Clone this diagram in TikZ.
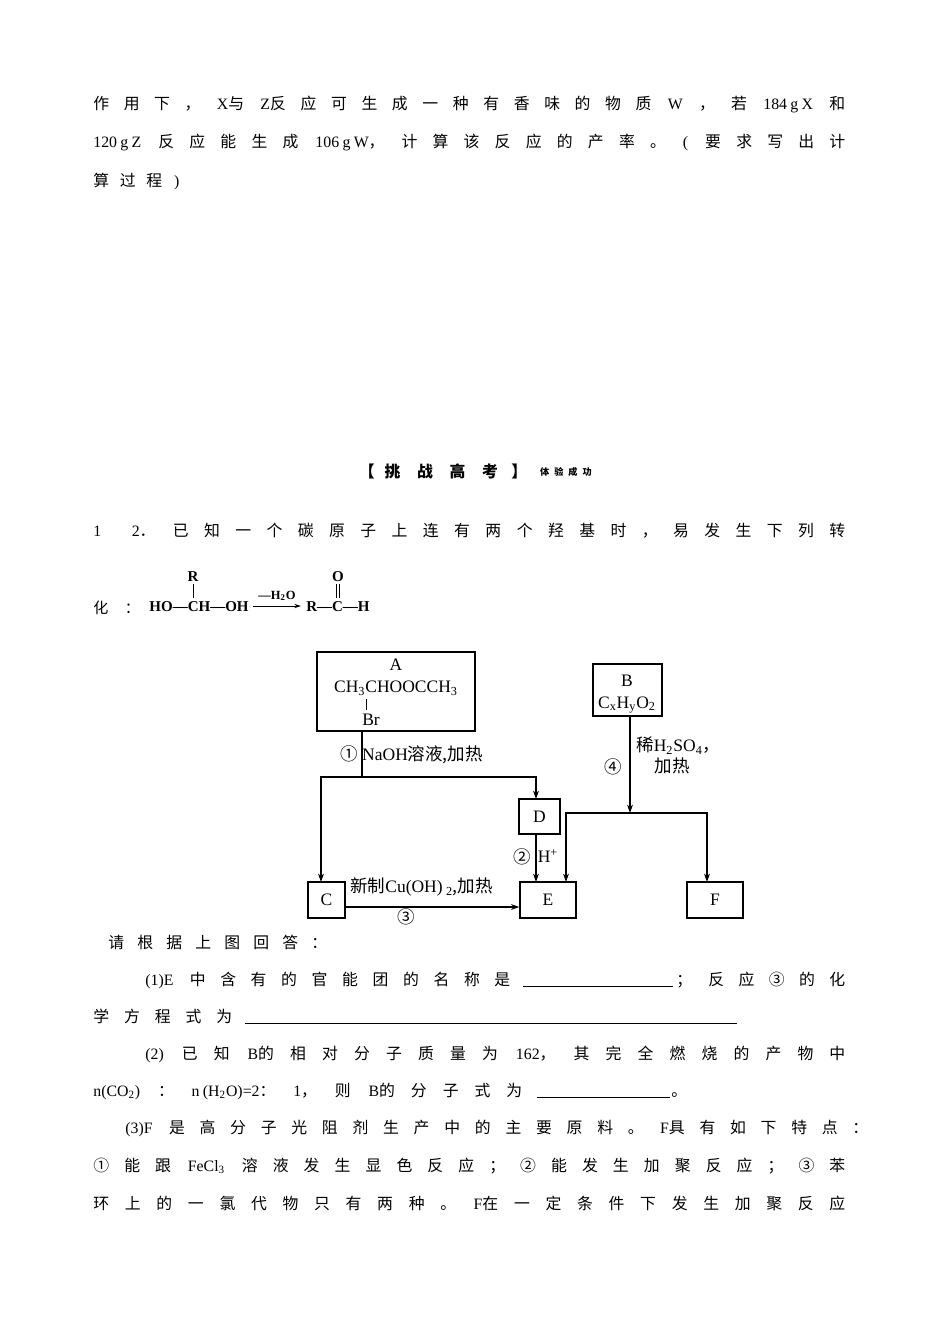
\documentclass[tikz,border=0pt]{standalone}
\usepackage{fontspec}
\usetikzlibrary{arrows.meta}
\setmainfont{Liberation Serif}
\newfontfamily\cjk{Noto Sans CJK SC}
\newcommand\seg[4]{\node[anchor=base west,inner sep=0pt] at (#1,#3) {\makebox[\dimexpr #2pt*6/10\relax][s]{#4}};}
\newcommand\txt[3]{\node[anchor=base west,inner sep=0pt] at (#1,#2) {#3};}
\newcommand\sub[1]{\textsubscript{#1}}
\begin{document}
\begin{tikzpicture}[x=0.6pt,y=-0.6pt,font=\fontsize{9.5pt}{11pt}\selectfont,
  box/.style={draw,line width=0.8pt,inner sep=0pt},
  ln/.style={line width=0.8pt},
  arr/.style={line width=0.8pt,-{Stealth[length=5pt,width=3.5pt]}},
  lab/.style={inner sep=0pt,font=\fontsize{10.5pt}{12pt}\selectfont}]
\useasboundingbox (0,0) rectangle (950,1344);
% top text
\seg{93}{752}{109}{{\cjk 作 用 下 ，} X{\cjk 与} Z{\cjk 反 应 可 生 成 一 种 有 香 味 的 物 质} W {\cjk ，} {\cjk 若} 184\kern2pt g\kern2pt X {\cjk 和}}
\seg{93}{752}{147}{120\kern2pt g\kern2pt Z {\cjk 反 应 能 生 成} 106\kern2pt g\kern2pt W{\cjk ，} {\cjk 计 算 该 反 应 的 产 率 。} ( {\cjk 要 求 写 出 计}}
\seg{93}{86}{186}{{\cjk 算 过 程} )}
% title
\node[inner sep=0pt] (title) at (443,471) {\cjk\bfseries 【\kern6pt 挑\kern10pt 战\kern10pt 高\kern10pt 考\kern8pt 】};
\node[inner sep=0pt,font=\fontsize{5.5pt}{6pt}\selectfont] (sub) at (566,472) {\cjk\bfseries 体\kern3pt 验\kern3pt 成\kern3pt 功};
\seg{93}{752}{536}{1 \kern8pt 2{\cjk ．} {\cjk 已 知 一 个 碳 原 子 上 连 有 两 个 羟 基 时 ， 易 发 生 下 列 转}}
% formula
\begin{scope}[font=\fontsize{9pt}{10pt}\selectfont\bfseries]
\txt{93}{613}{\mdseries\cjk 化\kern10pt ：}
\node[inner sep=0pt,anchor=base] (hoch) at (199,611) {HO---CH---OH};
\node[inner sep=0pt,anchor=base] (R1) at (193,581) {R};
\draw[line width=0.6pt] (193,584) -- (193,598);
\coordinate (a1) at (253,606); \coordinate (a2) at (301,606);
\draw[line width=0.6pt,-{Stealth[length=4pt,width=2.5pt]}] (a1) -- (a2);
\node[inner sep=0pt,anchor=base,font=\fontsize{7.5pt}{8pt}\selectfont\bfseries] (h2o) at (277,599) {---H\sub{2}O};
\node[inner sep=0pt,anchor=base] (rch) at (338,611) {R---C---H};
\node[inner sep=0pt,anchor=base] (O1) at (338,581) {O};
\draw[line width=0.6pt] (336.5,584) -- (336.5,598) (339.5,584) -- (339.5,598);
\end{scope}
% diagram
\node[box,minimum width=158*0.6pt,minimum height=79*0.6pt] (A) at (396,691.5) {};
\node[lab] (At) at (396,665) {A};
\node[lab] (Af) at (396,688) {CH\sub{3}CHOOCCH\sub{3}};
\draw[line width=0.6pt] (366,699) -- (366,710);
\node[lab] (Br) at (371,720) {Br};
\node[box,minimum width=69*0.6pt,minimum height=52*0.6pt] (B) at (627.5,690) {};
\node[lab] (Bt) at (627,681) {B};
\node[lab] (Bf) at (627,705) {C\sub{x}H\sub{y}O\sub{2}};
\node[box,minimum width=37*0.6pt,minimum height=36*0.6pt,lab] (C) at (326.5,900) {C};
\node[box,minimum width=41*0.6pt,minimum height=35*0.6pt,lab] (D) at (539.5,816.5) {D};
\node[box,minimum width=56*0.6pt,minimum height=36*0.6pt,lab] (E) at (548,900) {E};
\node[box,minimum width=56*0.6pt,minimum height=36*0.6pt,lab] (F) at (715,900) {F};
\coordinate (j1) at (362,777);
\coordinate (j2) at (630,813);
\draw[ln] (A.south -| j1) -- (j1);
\draw[arr] (j1) -| (321,882);
\draw[arr] (j1) -| (536,799);
\draw[arr] (536,834) -- (536,882);
\draw[arr] (C.east |- 0,907) -- (E.west |- 0,907);
\draw[arr] (B.south -| j2) -- (j2);
\draw[arr] (j2) -| (566,882);
\draw[arr] (j2) -| (707,882);
\node[lab,anchor=west] (l1) at (340,755) {{\cjk ①} NaOH{\cjk 溶液,加热}};
\node[lab,anchor=west] (l4a) at (636,746) {{\cjk 稀}H\sub{2}SO\sub{4}{\cjk ，}};
\node[lab] (l4b) at (672,766) {\cjk 加热};
\node[lab] (l4) at (613,767) {\cjk ④};
\node[lab] (l2) at (522,857) {\cjk ②};
\node[lab] (lh) at (548,856) {H\textsuperscript{+}};
\node[lab,anchor=west] (l3a) at (350,887) {{\cjk 新制}Cu(OH)\kern2pt\sub{2}{\cjk ,加热}};
\node[lab] (l3) at (406,917) {\cjk ③};
% questions
\seg{108}{219}{948}{\cjk 请 根 据 上 图 回 答 ：}
\seg{145}{365}{985}{(1)E {\cjk 中 含 有 的 官 能 团 的 名 称 是}}
\draw[line width=0.5pt] (523,986) -- (673,986);
\seg{676}{169}{985}{{\cjk ；} {\cjk 反 应 ③ 的 化}}
\seg{93}{139}{1022}{\cjk 学 方 程 式 为}
\draw[line width=0.5pt] (245,1023) -- (737,1023);
\seg{145}{700}{1059}{(2) {\cjk 已 知} B{\cjk 的 相 对 分 子 质 量 为} 162{\cjk ，} {\cjk 其 完 全 燃 烧 的 产 物 中}}
\seg{93}{429}{1096}{n(CO\sub{2}) {\cjk ：} n\kern2pt(H\sub{2}O)=2{\cjk ：} 1{\cjk ，} {\cjk 则} B{\cjk 的 分 子 式 为}}
\draw[line width=0.5pt] (537,1097) -- (670,1097);
\txt{671}{1096}{\cjk 。}
\seg{125}{743}{1133}{(3)F {\cjk 是 高 分 子 光 阻 剂 生 产 中 的 主 要 原 料 。} F{\cjk 具 有 如 下 特 点 ：}}
\seg{93}{752}{1171}{{\cjk ① 能 跟} FeCl\sub{3} {\cjk 溶 液 发 生 显 色 反 应 ； ② 能 发 生 加 聚 反 应 ； ③ 苯}}
\seg{93}{752}{1209}{{\cjk 环 上 的 一 氯 代 物 只 有 两 种 。} F{\cjk 在 一 定 条 件 下 发 生 加 聚 反 应}}
\end{tikzpicture}
\end{document}
